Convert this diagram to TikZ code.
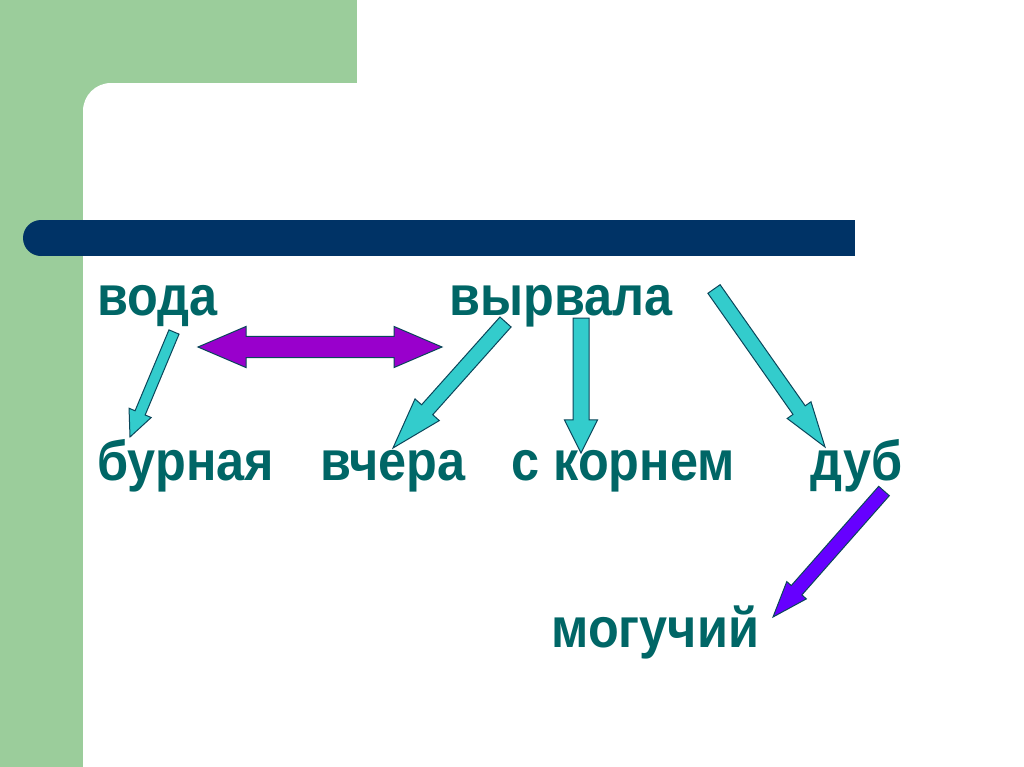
\documentclass[tikz,border=0pt]{standalone}
\usepackage{fontspec}
\setmainfont{Liberation Sans}
\newfontfamily\wordfont[FakeStretch=0.9]{Liberation Sans}
\usetikzlibrary{calc}

\definecolor{bggreen}{RGB}{155,205,155}
\definecolor{barnavy}{RGB}{0,51,102}
\definecolor{wordteal}{RGB}{0,102,102}
\definecolor{arrcyan}{RGB}{51,204,204}
\definecolor{arrpurple}{RGB}{153,0,204}
\definecolor{arrviolet}{RGB}{102,0,255}
\definecolor{arredge}{RGB}{10,70,90}

\tikzset{every picture/.style={line width=0.75pt},
  word/.style={anchor=base west, inner sep=0pt, text=wordteal, font=\wordfont\fontsize{42}{50}\selectfont\bfseries},
  blockarrow/.style={draw=arredge, line width=0.75pt, fill=arrcyan, line join=miter}}

% block arrow: #1 style, #2 tail, #3 tip, #4 half shaft, #5 half head, #6 head length
\newcommand{\blockarrow}[6]{%
\draw[#1] let \p1=($(#3)-(#2)$), \n1={atan2(\y1,\x1)}, \n2={veclen(\x1,\y1)-#6} in
  ($(#2)+(\n1+90:#4)$) -- ($(#2)+(\n1:\n2)+(\n1+90:#4)$) -- ($(#2)+(\n1:\n2)+(\n1+90:#5)$) -- (#3)
  -- ($(#2)+(\n1:\n2)+(\n1-90:#5)$) -- ($(#2)+(\n1:\n2)+(\n1-90:#4)$) -- ($(#2)+(\n1-90:#4)$) -- cycle;}

% double block arrow: #1 style, #2 tip, #3 tip, #4 half shaft, #5 half head, #6 head length
\newcommand{\twowayarrow}[6]{%
\draw[#1] let \p1=($(#3)-(#2)$), \n1={atan2(\y1,\x1)}, \n2={veclen(\x1,\y1)-#6} in
  (#2) -- ($(#2)+(\n1:#6)+(\n1+90:#5)$) -- ($(#2)+(\n1:#6)+(\n1+90:#4)$) -- ($(#2)+(\n1:\n2)+(\n1+90:#4)$)
  -- ($(#2)+(\n1:\n2)+(\n1+90:#5)$) -- (#3) -- ($(#2)+(\n1:\n2)+(\n1-90:#5)$) -- ($(#2)+(\n1:\n2)+(\n1-90:#4)$)
  -- ($(#2)+(\n1:#6)+(\n1-90:#4)$) -- ($(#2)+(\n1:#6)+(\n1-90:#5)$) -- cycle;}

\begin{document}
\begin{tikzpicture}[x=0.75pt,y=0.75pt,yscale=-1,xscale=1]
\useasboundingbox (0,0) rectangle (1024,767);

% Background
\fill[white] (0,0) rectangle (1024,767);
\fill[bggreen] (0,0) rectangle (357,767);
\fill[white, rounded corners=21pt] (83,83) rectangle (1060,800);
\fill[white] (357,0) rectangle (1024,767);
\fill[white] (110,83) rectangle (357,767);
\fill[white] (83,115) rectangle (357,767);
\fill[bggreen] (0,0) rectangle (83,767);
\fill[bggreen] (0,0) rectangle (357,83);

% Bar
\fill[barnavy] (41,220) rectangle (855,256);
\fill[barnavy] (41,238) circle (13.5pt);

% Text Node
\node[word] (voda) at (97,315) {вода};
\node[word] (vyrvala) at (449,315) {вырвала};
\node[word] (burnaya) at (97,480) {бурная};
\node[word] (vchera) at (320,480) {вчера};
\node[word] (kornem) at (511,480) {с корнем};
\node[word] (dub) at (810,480) {дуб};
\node[word] (moguchiy) at (551,647) {могучий};

% Arrow ends
\coordinate (vodaTail) at (174,332);
\coordinate (burnayaTip) at (130,437);
\coordinate (leftTip) at (198,347);
\coordinate (rightTip) at (442,347);
\coordinate (vcheraTail) at (505.5,322);
\coordinate (vcheraTip) at (393,448);
\coordinate (kornemTail) at (581,318);
\coordinate (kornemTip) at (581,453);
\coordinate (dubTail) at (714,289);
\coordinate (dubTip) at (825,447);
\coordinate (moguchiyTail) at (884,491);
\coordinate (moguchiyTip) at (773,617);

% Connection
\blockarrow{blockarrow}{vodaTail}{burnayaTip}{4.1pt}{9pt}{19.5pt}
\twowayarrow{blockarrow, fill=arrpurple}{leftTip}{rightTip}{7.9pt}{15.4pt}{36pt}
\blockarrow{blockarrow}{vcheraTail}{vcheraTip}{5.6pt}{12.2pt}{38pt}
\blockarrow{blockarrow}{kornemTail}{kornemTip}{6pt}{12.4pt}{24.8pt}
\blockarrow{blockarrow}{dubTail}{dubTip}{5.6pt}{10.9pt}{33.8pt}
\blockarrow{blockarrow, fill=arrviolet}{moguchiyTail}{moguchiyTip}{5.3pt}{9.8pt}{26.3pt}

\end{tikzpicture}
\end{document}
